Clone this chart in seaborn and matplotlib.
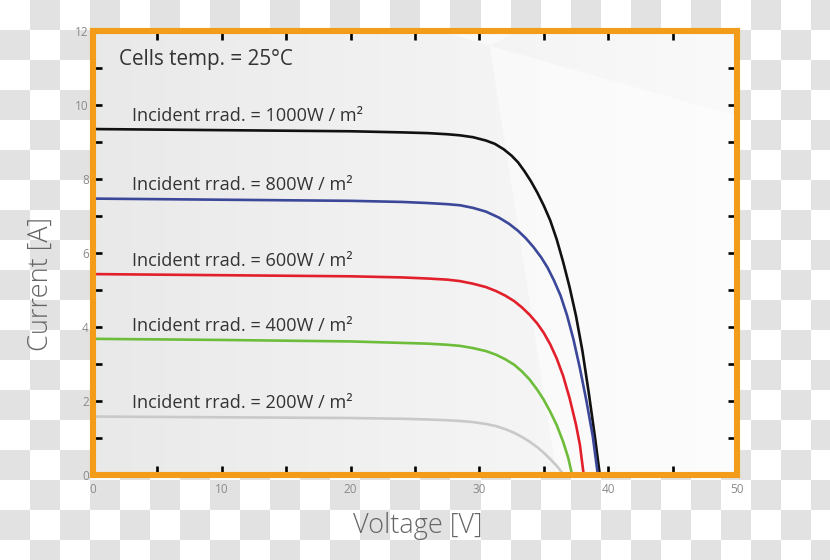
import numpy as np
import pandas as pd
import seaborn as sns
import matplotlib.pyplot as plt
from matplotlib.colors import ListedColormap, LinearSegmentedColormap
from matplotlib.ticker import MultipleLocator

# I-V curves of a PV module
irradiance = ["1000", "800", "600", "400", "200"]
line_colors = ["#111111", "#3b4799", "#e2202b", "#6dbd3a", "#c9c9c9"]

v_1000 = [0, 10, 20, 24, 26, 27.5, 28.5, 29.5, 30.5, 31.2, 31.9, 32.5, 33.0, 33.5, 34.0,
          34.5, 35.0, 35.5, 36.0, 36.5, 37.0, 37.5, 38.0, 38.5, 39.0, 39.35]
i_1000 = [9.35, 9.32, 9.29, 9.26, 9.24, 9.21, 9.18, 9.13, 9.04, 8.95, 8.80, 8.63, 8.45, 8.21, 7.94,
          7.63, 7.28, 6.88, 6.37, 5.76, 5.08, 4.30, 3.35, 2.20, 0.95, 0.0]

v_800 = [0, 10, 20, 24, 26, 27.5, 28.5, 29.5, 30.5, 31.5, 32.3, 33.0, 33.6, 34.2, 34.8,
         35.3, 35.8, 36.3, 36.8, 37.3, 37.8, 38.3, 38.8, 39.2]
i_800 = [7.47, 7.44, 7.41, 7.38, 7.35, 7.32, 7.29, 7.22, 7.12, 6.96, 6.79, 6.60, 6.40, 6.16, 5.88,
         5.60, 5.25, 4.85, 4.32, 3.67, 2.89, 2.02, 1.05, 0.0]

v_600 = [0, 10, 20, 24, 26, 27.5, 28.5, 29.5, 30.5, 31.3, 32.0, 32.7, 33.3, 33.9, 34.5,
         35.0, 35.5, 36.0, 36.5, 37.0, 37.5, 37.8, 38.1]
i_600 = [5.43, 5.40, 5.37, 5.34, 5.31, 5.28, 5.24, 5.17, 5.08, 4.97, 4.85, 4.70, 4.53, 4.33, 4.09,
         3.84, 3.53, 3.15, 2.68, 2.08, 1.36, 0.82, 0.0]

v_400 = [0, 10, 20, 24, 26, 27.5, 28.5, 29.5, 30.5, 31.3, 32.0, 32.7, 33.3, 33.9, 34.5,
         35.0, 35.5, 36.0, 36.5, 36.9, 37.2]
i_400 = [3.68, 3.65, 3.61, 3.57, 3.55, 3.52, 3.49, 3.43, 3.35, 3.25, 3.13, 2.98, 2.80, 2.58, 2.30,
         2.03, 1.71, 1.35, 0.90, 0.46, 0.0]

v_200 = [0, 10, 20, 24, 26, 27.5, 28.5, 29.5, 30.5, 31.3, 32.0, 32.7, 33.3, 33.9, 34.5,
         35.0, 35.5, 36.0, 36.55]
i_200 = [1.58, 1.56, 1.54, 1.52, 1.50, 1.48, 1.46, 1.43, 1.38, 1.32, 1.24, 1.14, 1.03, 0.90, 0.75,
         0.60, 0.43, 0.25, 0.0]

voltages = [v_1000, v_800, v_600, v_400, v_200]
currents = [i_1000, i_800, i_600, i_400, i_200]

frames = []
for irr, v, i in zip(irradiance, voltages, currents):
    frames.append(pd.DataFrame({"voltage": v, "current": i, "irradiance": irr}))
df = pd.concat(frames, ignore_index=True)

sns.set_theme(style="white")
plt.rcParams["font.family"] = ["Open Sans", "DejaVu Sans"]

orange = "#f39c19"

fig = plt.figure(figsize=(8.3, 5.6), dpi=100)

# checkerboard backdrop (transparency pattern of the reference image)
bg = fig.add_axes([0, 0, 1, 1], zorder=-5)
cells = np.indices((19, 28)).sum(axis=0) % 2
bg.imshow(cells, cmap=ListedColormap(["white", "#e2e2e2"]), extent=(0, 840, 570, 0),
          interpolation="nearest")
bg.set_xlim(0, 830)
bg.set_ylim(560, 0)
bg.axis("off")

ax = fig.add_axes([93 / 830, 85 / 560, 644 / 830, 444 / 560])
ax.set_xlim(0, 50)
ax.set_ylim(0, 12)

# soft grey gradient of the plot area
grad = np.linspace(0, 1, 256).reshape(1, -1)
shade = LinearSegmentedColormap.from_list("shade", ["#e9e9e9", "#f2f2f2", "#fafafa"])
ax.imshow(grad, cmap=shade, extent=(0, 50, 0, 12), aspect="auto", zorder=0)
ax.fill([30.8, 50, 50, 36], [11.6, 9.7, 0, 0], color="white", alpha=0.5, lw=0, zorder=0.5)
ax.fill([30.8, 27, 33], [11.6, 12, 12], color="white", alpha=0.5, lw=0, zorder=0.5)

sns.lineplot(data=df, x="voltage", y="current", hue="irradiance",
             palette=dict(zip(irradiance, line_colors)), estimator=None, sort=False,
             linewidth=1.9, legend=False, ax=ax, zorder=3)

for irr, i in zip(irradiance, currents):
    ax.text(3.0, i[0] + 0.36, f"Incident rrad. = {irr}W / m²", fontsize=13.1,
            color="#333333", va="center", ha="left", zorder=4)
ax.text(2.0, 11.22, "Cells temp. = 25°C", fontsize=14.9, color="#333333",
        va="center", ha="left", zorder=4)

for side in ["left", "right", "top", "bottom"]:
    ax.spines[side].set_visible(True)
    ax.spines[side].set_color(orange)
    ax.spines[side].set_linewidth(4.4)
    ax.spines[side].set_zorder(5)

ax.xaxis.set_major_locator(MultipleLocator(10))
ax.xaxis.set_minor_locator(MultipleLocator(5))
ax.yaxis.set_major_locator(MultipleLocator(2))
ax.yaxis.set_minor_locator(MultipleLocator(1))
ax.tick_params(which="both", direction="in", length=6.5, width=1.9, color="black",
               top=True, right=True, bottom=True, left=True)
ax.tick_params(which="major", labelsize=8.5, labelcolor="#8a8a8a")
ax.tick_params(axis="x", which="major", pad=6)
ax.tick_params(axis="y", which="major", pad=3)

ax.set_xlabel("Voltage [V]", fontsize=19.5, color="#666666", fontweight="light")
ax.set_ylabel("Current [A]", fontsize=19.5, color="#666666", fontweight="light")
ax.xaxis.set_label_coords(0.505, -0.083)
ax.yaxis.set_label_coords(-0.06, 0.43)

fig.savefig("out.png", dpi=100)
